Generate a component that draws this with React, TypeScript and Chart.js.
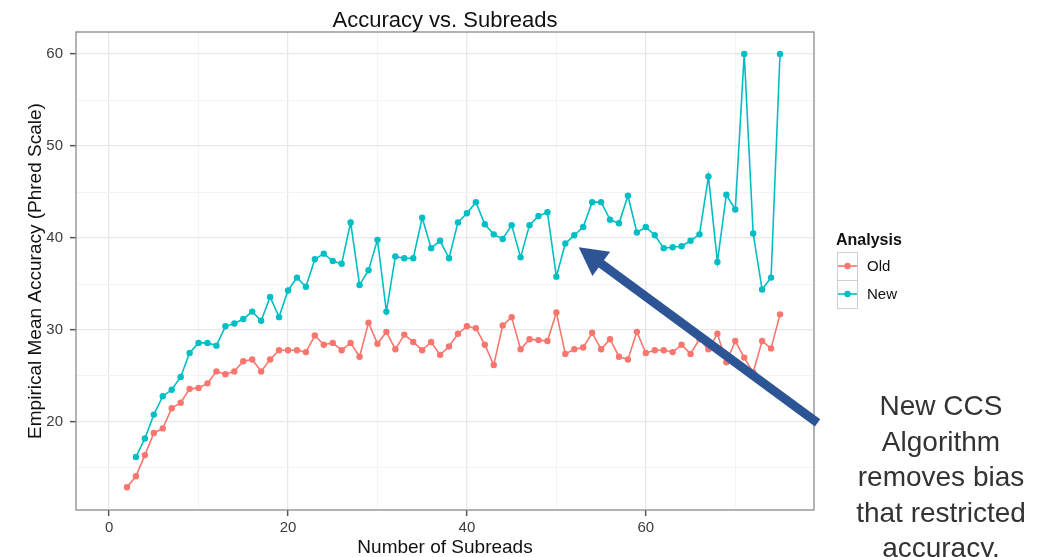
import React, { useEffect, useRef } from 'react';
import { Chart, registerables } from 'chart.js';

Chart.register(...registerables);

// Number of subreads per read (x) and the empirical mean accuracy (Phred) for each algorithm
const subreadsOld = [
  2, 3, 4, 5, 6, 7, 8, 9, 10, 11, 12, 13, 14, 15, 16, 17, 18, 19, 20, 21, 22, 23, 24, 25, 26,
  27, 28, 29, 30, 31, 32, 33, 34, 35, 36, 37, 38, 39, 40, 41, 42, 43, 44, 45, 46, 47, 48, 49, 50,
  51, 52, 53, 54, 55, 56, 57, 58, 59, 60, 61, 62, 63, 64, 65, 66, 67, 68, 69, 70, 71, 72, 73, 74, 75,
];
const accuracyOld = [
  12.9, 14.1, 16.4, 18.8, 19.3, 21.5, 22.1, 23.6, 23.7, 24.2, 25.5, 25.2, 25.5, 26.6, 26.8, 25.5,
  26.8, 27.8, 27.8, 27.8, 27.6, 29.4, 28.4, 28.6, 27.8, 28.6, 27.1, 30.8, 28.5, 29.8, 27.9, 29.5,
  28.7, 27.8, 28.7, 27.3, 28.2, 29.6, 30.4, 30.2, 28.4, 26.2, 30.5, 31.4, 27.9, 29.0, 28.9, 28.8,
  31.9, 27.4, 27.9, 28.1, 29.7, 27.9, 29.0, 27.1, 26.8, 29.8, 27.5, 27.8, 27.8, 27.6, 28.4, 27.4,
  29.0, 27.9, 29.6, 26.5, 28.8, 27.0, 25.4, 28.8, 28.0, 31.7,
];

const subreadsNew = [
  3, 4, 5, 6, 7, 8, 9, 10, 11, 12, 13, 14, 15, 16, 17, 18, 19, 20, 21, 22, 23, 24, 25, 26,
  27, 28, 29, 30, 31, 32, 33, 34, 35, 36, 37, 38, 39, 40, 41, 42, 43, 44, 45, 46, 47, 48, 49, 50,
  51, 52, 53, 54, 55, 56, 57, 58, 59, 60, 61, 62, 63, 64, 65, 66, 67, 68, 69, 70, 71, 72, 73, 74, 75,
];
const accuracyNew = [
  16.2, 18.2, 20.8, 22.8, 23.5, 24.9, 27.5, 28.6, 28.6, 28.3, 30.4, 30.7, 31.2, 32.0, 31.0, 33.6,
  31.4, 34.3, 35.7, 34.7, 37.7, 38.3, 37.5, 37.2, 41.7, 34.9, 36.5, 39.8, 32.0, 38.0, 37.8, 37.8,
  42.2, 38.9, 39.7, 37.8, 41.7, 42.7, 43.9, 41.5, 40.4, 39.9, 41.4, 37.9, 41.4, 42.4, 42.8, 35.8,
  39.4, 40.3, 41.2, 43.9, 43.9, 42.0, 41.6, 44.6, 40.6, 41.2, 40.3, 38.9, 39.0, 39.1, 39.7, 40.4,
  46.7, 37.4, 44.7, 43.1, 60.0, 40.5, 34.4, 35.7, 60.0,
];

const seriesNames = ['Old', 'New'];
const seriesColors = ['#F8766D', '#00BFC4'];

const xMajorTicks = [0, 20, 40, 60];
const xMinorTicks = [10, 30, 50, 70];
const yMajorTicks = [20, 30, 40, 50, 60];
const yMinorTicks = [15, 25, 35, 45, 55];

const chartTitle = 'Accuracy vs. Subreads';
const xTitle = 'Number of Subreads';
const yTitle = 'Empirical Mean Accuracy (Phred Scale)';
const legendTitle = 'Analysis';
const noteLines = ['New CCS', 'Algorithm', 'removes bias', 'that restricted', 'accuracy.'];

// Callout arrow, in data units (tail -> tip)
const arrowTail = { x: 79.2, y: 19.9 };
const arrowTip = { x: 52.5, y: 39.0 };

const FONT = '"Liberation Sans", Arial, Helvetica, sans-serif';

const decorations = {
  id: 'decorations',
  afterDraw(chart: any) {
    const { ctx, chartArea } = chart;
    const xs = chart.scales.x;
    const ys = chart.scales.y;
    const { left, right, top, bottom } = chartArea;
    const cx = (left + right) / 2;

    ctx.save();

    // panel border
    ctx.strokeStyle = '#8a8a8a';
    ctx.lineWidth = 1.3;
    ctx.strokeRect(left, top, right - left, bottom - top);

    // title
    ctx.fillStyle = '#111';
    ctx.font = `22px ${FONT}`;
    ctx.textAlign = 'center';
    ctx.textBaseline = 'alphabetic';
    ctx.fillText(chartTitle, cx, 27);

    // axis titles
    ctx.font = `19px ${FONT}`;
    ctx.fillStyle = '#111';
    ctx.fillText(xTitle, cx, 553);
    ctx.save();
    ctx.translate(36, (top + bottom) / 2);
    ctx.rotate(-Math.PI / 2);
    ctx.textBaseline = 'middle';
    ctx.fillText(yTitle, 0, 0);
    ctx.restore();

    // legend
    ctx.textAlign = 'left';
    ctx.font = `bold 16px ${FONT}`;
    ctx.fillStyle = '#111';
    ctx.fillText(legendTitle, 836, 245);
    seriesNames.forEach((name, i) => {
      const y0 = 252 + i * 28;
      ctx.fillStyle = '#fff';
      ctx.fillRect(837, y0, 20, 28);
      ctx.strokeStyle = '#cfcfcf';
      ctx.lineWidth = 1;
      ctx.strokeRect(837.5, y0 + 0.5, 20, 28);
      ctx.strokeStyle = seriesColors[i];
      ctx.lineWidth = 1.6;
      ctx.beginPath();
      ctx.moveTo(838, y0 + 14);
      ctx.lineTo(857, y0 + 14);
      ctx.stroke();
      ctx.fillStyle = seriesColors[i];
      ctx.beginPath();
      ctx.arc(847.5, y0 + 14, 3.2, 0, Math.PI * 2);
      ctx.fill();
      ctx.fillStyle = '#111';
      ctx.font = `15px ${FONT}`;
      ctx.textBaseline = 'middle';
      ctx.fillText(name, 867, y0 + 15);
      ctx.textBaseline = 'alphabetic';
    });

    // callout arrow
    const tx = xs.getPixelForValue(arrowTail.x);
    const ty = ys.getPixelForValue(arrowTail.y);
    const hx = xs.getPixelForValue(arrowTip.x);
    const hy = ys.getPixelForValue(arrowTip.y);
    const dx = tx - hx;
    const dy = ty - hy;
    const len = Math.hypot(dx, dy);
    const ux = dx / len;
    const uy = dy / len;
    const headLen = 28;
    const headHalf = 15;
    const bx = hx + ux * headLen;
    const by = hy + uy * headLen;
    ctx.strokeStyle = '#2D5596';
    ctx.fillStyle = '#2D5596';
    ctx.lineWidth = 9;
    ctx.lineCap = 'butt';
    ctx.beginPath();
    ctx.moveTo(tx, ty);
    ctx.lineTo(bx - ux * 2, by - uy * 2);
    ctx.stroke();
    ctx.beginPath();
    ctx.moveTo(hx, hy);
    ctx.lineTo(bx - uy * headHalf, by + ux * headHalf);
    ctx.lineTo(bx + uy * headHalf, by - ux * headHalf);
    ctx.closePath();
    ctx.fill();

    // side note
    ctx.fillStyle = '#333';
    ctx.font = `28px ${FONT}`;
    ctx.textAlign = 'center';
    const baselines = [415, 451, 486, 522, 557];
    noteLines.forEach((line, i) => ctx.fillText(line, 941, baselines[i]));

    ctx.restore();
  },
};

const isMajor = (list: number[], v: number) => list.indexOf(v) >= 0;

export default function App() {
  const canvasRef = useRef<HTMLCanvasElement | null>(null);

  useEffect(() => {
    const canvas = canvasRef.current;
    if (!canvas) return;

    const toPoints = (xsArr: number[], ysArr: number[]) =>
      xsArr.map((x, i) => ({ x, y: ysArr[i] }));

    const chart = new Chart(canvas, {
      type: 'line',
      data: {
        datasets: [
          {
            label: seriesNames[0],
            data: toPoints(subreadsOld, accuracyOld),
            borderColor: seriesColors[0],
            backgroundColor: seriesColors[0],
            pointBackgroundColor: seriesColors[0],
            pointBorderWidth: 0,
            pointRadius: 3.2,
            borderWidth: 1.6,
            tension: 0,
          },
          {
            label: seriesNames[1],
            data: toPoints(subreadsNew, accuracyNew),
            borderColor: seriesColors[1],
            backgroundColor: seriesColors[1],
            pointBackgroundColor: seriesColors[1],
            pointBorderWidth: 0,
            pointRadius: 3.2,
            borderWidth: 1.6,
            tension: 0,
          },
        ],
      },
      options: {
        responsive: false,
        animation: false,
        devicePixelRatio: 1,
        layout: { padding: { top: 32, right: 236, left: 0, bottom: 0 } },
        plugins: {
          legend: { display: false },
          title: { display: false },
          tooltip: { enabled: false },
        },
        scales: {
          x: {
            type: 'linear',
            min: -3.7,
            max: 78.8,
            afterFit: (scale: any) => {
              scale.height = 47;
            },
            afterBuildTicks: (scale: any) => {
              scale.ticks = [...xMajorTicks, ...xMinorTicks]
                .sort((a, b) => a - b)
                .map((value) => ({ value }));
            },
            border: { display: false },
            grid: {
              color: (c: any) => (isMajor(xMajorTicks, c.tick?.value) ? '#e8e8e8' : '#f4f4f4'),
              lineWidth: (c: any) => (isMajor(xMajorTicks, c.tick?.value) ? 1.3 : 1),
              tickColor: (c: any) => (isMajor(xMajorTicks, c.tick?.value) ? '#555' : 'rgba(0,0,0,0)'),
              tickWidth: 1.5,
              tickLength: 6,
              drawTicks: true,
            },
            ticks: {
              autoSkip: false,
              maxRotation: 0,
              padding: 3,
              color: '#3c3c3c',
              font: { family: FONT, size: 15 },
              callback: (v: any) => (isMajor(xMajorTicks, Number(v)) ? String(v) : ''),
            },
          },
          y: {
            type: 'linear',
            min: 10.43,
            max: 62.4,
            afterFit: (scale: any) => {
              scale.width = 76;
            },
            afterBuildTicks: (scale: any) => {
              scale.ticks = [...yMajorTicks, ...yMinorTicks]
                .sort((a, b) => a - b)
                .map((value) => ({ value }));
            },
            border: { display: false },
            grid: {
              color: (c: any) => (isMajor(yMajorTicks, c.tick?.value) ? '#e8e8e8' : '#f4f4f4'),
              lineWidth: (c: any) => (isMajor(yMajorTicks, c.tick?.value) ? 1.3 : 1),
              tickColor: (c: any) => (isMajor(yMajorTicks, c.tick?.value) ? '#555' : 'rgba(0,0,0,0)'),
              tickWidth: 1.5,
              tickLength: 6,
              drawTicks: true,
            },
            ticks: {
              autoSkip: false,
              padding: 7,
              color: '#3c3c3c',
              font: { family: FONT, size: 15 },
              callback: (v: any) => (isMajor(yMajorTicks, Number(v)) ? String(v) : ''),
            },
          },
        },
      },
      plugins: [decorations],
    });

    return () => chart.destroy();
  }, []);

  return (
    <div style={{ position: 'absolute', left: 0, top: 0, width: 1050, height: 557, background: '#fff' }}>
      <canvas ref={canvasRef} width={1050} height={557} style={{ display: 'block' }} />
    </div>
  );
}
